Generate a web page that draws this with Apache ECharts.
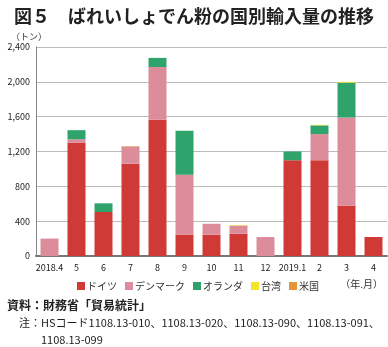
<!DOCTYPE html>
<html>
<head>
<meta charset="utf-8">
<script src="https://cdn.jsdelivr.net/npm/echarts@6/dist/echarts.min.js"></script>
<style>
  html, body { margin: 0; padding: 0; background: #fff; }
  #chart { width: 388px; height: 347px; }
</style>
</head>
<body>
<div id="chart"></div>
<script>
const months = ['2018.4', '5', '6', '7', '8', '9', '10', '11', '12', '2019.1', '2', '3', '4']
const germany = [0, 1300, 505, 1060, 1565, 245, 245, 255, 0, 1100, 1100, 578, 218]
const denmark = [200, 40, 0, 195, 605, 688, 125, 95, 218, 0, 300, 1012, 0]
const netherlands = [0, 105, 100, 0, 105, 505, 0, 0, 0, 100, 100, 400, 0]
const taiwan = [0, 0, 0, 0, 0, 0, 0, 6, 0, 0, 6, 10, 0]
const usa = [0, 0, 0, 6, 0, 0, 0, 0, 0, 0, 0, 0, 0]
const yTicks = [0, 400, 800, 1200, 1600, 2000, 2400]

const FONT = '"Noto Sans CJK JP", "Noto Sans", sans-serif'
const names = ['ドイツ', 'デンマーク', 'オランダ', '台湾', '米国']
const colors = ['#cf3a36', '#dd8c9c', '#2ea46c', '#f0e62a', '#e3973a']
const values = [germany, denmark, netherlands, taiwan, usa]

const chart = echarts.init(document.getElementById('chart'))
chart.setOption({
  animation: false,
  textStyle: { fontFamily: FONT },
  title: [
    {
      text: '図５　ばれいしょでん粉の国別輸入量の推移',
      left: 'center',
      top: 2,
      textStyle: { fontSize: 18, fontWeight: 'bold', color: '#222', fontFamily: FONT }
    },
    {
      text: '（トン）',
      left: 6,
      top: 27,
      textStyle: { fontSize: 9, fontWeight: 'normal', color: '#333', fontFamily: FONT }
    },
    {
      text: '（年.月）',
      right: 0,
      top: 274,
      textStyle: { fontSize: 10, fontWeight: 'normal', color: '#333', fontFamily: FONT }
    },
    {
      text: '資料：財務省「貿易統計」',
      left: 2,
      top: 294,
      textStyle: { fontSize: 12, fontWeight: 'bold', color: '#222', fontFamily: FONT }
    },
    {
      text: '注：HSコード1108.13-010、1108.13-020、1108.13-090、1108.13-091、\n　　1108.13-099',
      left: 14,
      top: 309,
      textStyle: { fontSize: 11, fontWeight: 'normal', color: '#222', lineHeight: 17, fontFamily: FONT }
    }
  ],
  legend: {
    data: names,
    top: 276,
    left: 72,
    itemWidth: 8,
    itemHeight: 8,
    itemGap: 8,
    icon: 'rect',
    textStyle: { fontSize: 10, color: '#333', padding: [0, 0, 0, -3] }
  },
  grid: { left: 36, right: 1, top: 47, bottom: 91 },
  xAxis: {
    type: 'category',
    data: months,
    axisTick: { show: false },
    axisLine: { lineStyle: { color: '#777', width: 2 } },
    axisLabel: { fontSize: 9, color: '#222', margin: 7, interval: 0 }
  },
  yAxis: {
    type: 'value',
    min: yTicks[0],
    max: yTicks[yTicks.length - 1],
    interval: 400,
    axisLine: { show: true, lineStyle: { color: '#888' } },
    axisTick: { show: false },
    splitLine: { lineStyle: { color: '#bbb' } },
    axisLabel: {
      fontSize: 9,
      color: '#222',
      margin: 6,
      formatter: (v) => v.toLocaleString('en-US')
    }
  },
  series: names.map((n, i) => ({
    name: n,
    type: 'bar',
    stack: 'total',
    barWidth: 18,
    itemStyle: { color: colors[i] },
    data: values[i]
  }))
})
</script>
</body>
</html>
